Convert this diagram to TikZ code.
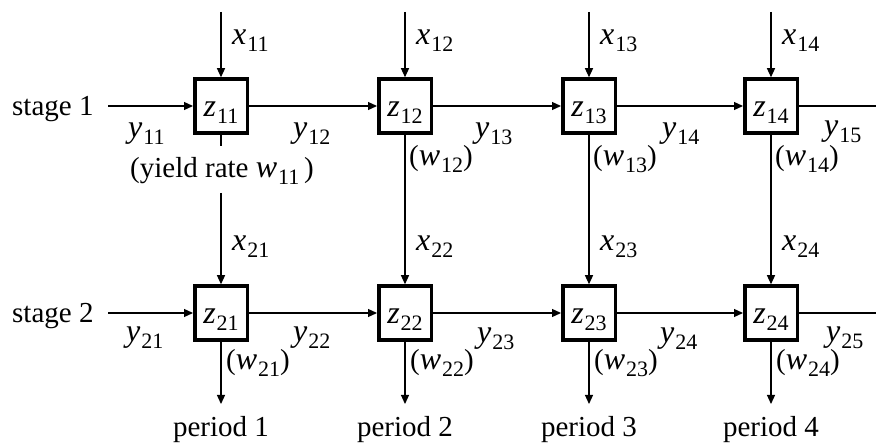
\documentclass[tikz,border=0pt]{standalone}
\usepackage{fontspec}
\setmainfont{Liberation Serif}
\usetikzlibrary{arrows.meta}
\newcommand\Vr[2]{{\fontsize{32}{34}\selectfont\textit{#1}}\kern1pt\raisebox{-7pt}{\fontsize{22}{22}\selectfont #2}}
\tikzset{
  zbox/.style={draw, line width=3.5pt, minimum width=52.5pt, minimum height=54pt, inner sep=0pt, text height=22pt, text depth=0pt},
  ln/.style={line width=1.2pt},
  arr/.style={ln, -{Triangle[length=9pt,width=8pt]}},
  lab/.style={anchor=base west, inner sep=0pt},
}
\begin{document}
\begin{tikzpicture}[x=1pt,y=-1pt,font=\fontsize{29}{34}\selectfont]
\useasboundingbox (0,0) rectangle (876,446);
% boxes
\foreach \j/\cx in {1/221,2/405,3/589,4/771}{
  \node[zbox] (z1\j) at (\cx,106) {\Vr{z}{1\j}};
  \node[zbox] (z2\j) at (\cx,313) {\Vr{z}{2\j}};
  \coordinate (t\j) at (\cx,12);
  \coordinate (b\j) at (\cx,404);
  \draw[arr] (t\j) -- (z1\j);
  \draw[arr] (z2\j) -- (b\j);
  \node (p\j) at (\cx,430) {period \j};
  \node[lab] (x1\j) at (\cx+11,45) {\Vr{x}{1\j}};
  \node[lab] (x2\j) at (\cx+11,251) {\Vr{x}{2\j}};
}
\foreach \j/\cx in {2/405,3/589,4/771}{
  \draw[arr] (z1\j) -- (z2\j);
  \node[lab] (w1\j) at (\cx+4,166) {(\Vr{w}{1\j})};
}
\foreach \j/\cx in {1/221,2/405,3/589,4/771}{
  \node[lab] (w2\j) at (\cx+5,370) {(\Vr{w}{2\j})};
}
% column 1 with yield label
\node[anchor=base, inner sep=0pt] (yl) at (222,178) {(yield rate \Vr{w}{11}\,)};
\coordinate (g1) at (221,146);
\coordinate (g2) at (221,193);
\draw[ln] (z11) -- (g1);
\draw[arr] (g2) -- (z21);
% horizontal flows
\coordinate (s1) at (108,106);
\coordinate (s2) at (108,313);
\coordinate (e1) at (876,106);
\coordinate (e2) at (876,313);
\foreach \r in {1,2}{
  \draw[arr] (s\r) -- (z\r1);
  \draw[arr] (z\r1) -- (z\r2);
  \draw[arr] (z\r2) -- (z\r3);
  \draw[arr] (z\r3) -- (z\r4);
  \draw[ln] (z\r4) -- (e\r);
}
\node[lab] (st1) at (12,116) {stage 1};
\node[lab] (st2) at (12,323) {stage 2};
% y labels
\node[lab] (y11) at (128,138) {\Vr{y}{11}};
\node[lab] (y12) at (293,138) {\Vr{y}{12}};
\node[lab] (y13) at (475,138) {\Vr{y}{13}};
\node[lab] (y14) at (662,138) {\Vr{y}{14}};
\node[lab] (y15) at (824,136) {\Vr{y}{15}};
\node[lab] (y21) at (126,342) {\Vr{y}{21}};
\node[lab] (y22) at (293,342) {\Vr{y}{22}};
\node[lab] (y23) at (477,343) {\Vr{y}{23}};
\node[lab] (y24) at (660,343) {\Vr{y}{24}};
\node[lab] (y25) at (826,342) {\Vr{y}{25}};
\end{tikzpicture}
\end{document}
